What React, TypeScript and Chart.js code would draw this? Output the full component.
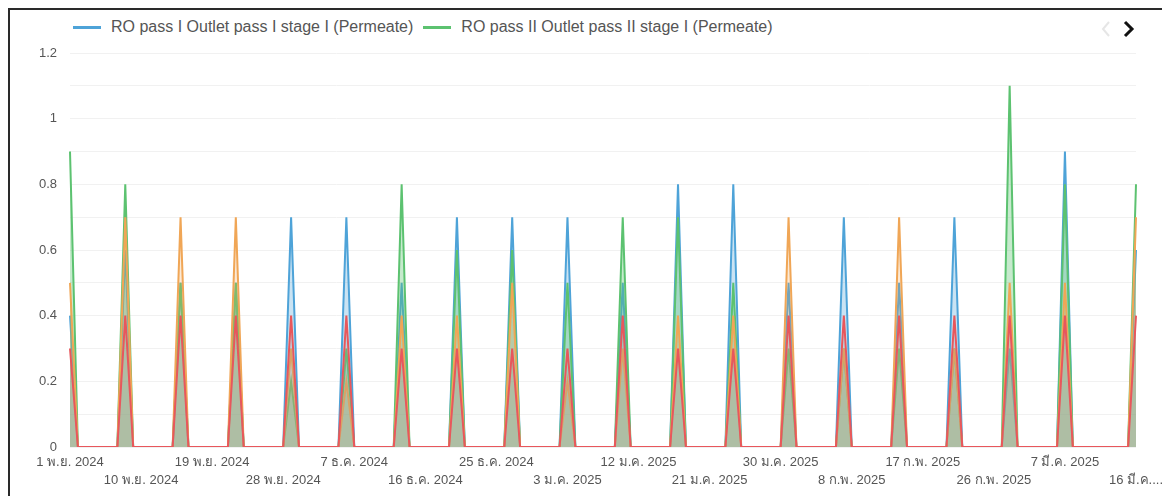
import React, { useEffect, useRef } from 'react';
import { Chart, registerables } from 'chart.js';

Chart.register(...registerables);

// Category axis: one label per day, 1 Nov 2024 .. 16 Mar 2025
const START_YEAR = 2024;
const START_MONTH = 10; // November (0-based)
const START_DAY = 1;
const DAY_COUNT = 136;
const THAI_MONTHS = ['ม.ค.', 'ก.พ.', 'มี.ค.', 'เม.ย.', 'พ.ค.', 'มิ.ย.', 'ก.ค.', 'ส.ค.', 'ก.ย.', 'ต.ค.', 'พ.ย.', 'ธ.ค.'];

const dayLabels: string[] = [];
for (let i = 0; i < DAY_COUNT; i++) {
  const d = new Date(START_YEAR, START_MONTH, START_DAY + i);
  dayLabels.push(`${d.getDate()} ${THAI_MONTHS[d.getMonth()]} ${d.getFullYear()}`);
}

// Days that carry measurements (all other days are 0)
const sampleDates = [
  '1 พ.ย. 2024', '8 พ.ย. 2024', '15 พ.ย. 2024', '22 พ.ย. 2024', '29 พ.ย. 2024',
  '6 ธ.ค. 2024', '13 ธ.ค. 2024', '20 ธ.ค. 2024', '27 ธ.ค. 2024', '3 ม.ค. 2025',
  '10 ม.ค. 2025', '17 ม.ค. 2025', '24 ม.ค. 2025', '31 ม.ค. 2025', '7 ก.พ. 2025',
  '14 ก.พ. 2025', '21 ก.พ. 2025', '28 ก.พ. 2025', '7 มี.ค. 2025', '16 มี.ค. 2025',
];

const roPass1 = [0.4, 0.6, 0.5, 0.5, 0.7, 0.7, 0.5, 0.7, 0.7, 0.7, 0.5, 0.8, 0.8, 0.5, 0.7, 0.5, 0.7, 0.3, 0.9, 0.6];
const roPass2 = [0.9, 0.8, 0.5, 0.5, 0.2, 0.3, 0.8, 0.6, 0.6, 0.5, 0.7, 0.7, 0.5, 0.3, 0.3, 0.3, 0.3, 1.1, 0.8, 0.8];
const series3 = [0.5, 0.7, 0.7, 0.7, 0.3, 0.2, 0.4, 0.4, 0.5, 0.2, 0.3, 0.4, 0.4, 0.7, 0.3, 0.7, 0.3, 0.5, 0.5, 0.7];
const series4 = [0.3, 0.4, 0.4, 0.4, 0.4, 0.4, 0.3, 0.3, 0.3, 0.3, 0.4, 0.3, 0.3, 0.4, 0.4, 0.4, 0.4, 0.4, 0.4, 0.4];

const seriesNames = [
  'RO pass I Outlet pass I stage I (Permeate)',
  'RO pass II Outlet pass II stage I (Permeate)',
  'Series 3',
  'Series 4',
];
const seriesColors = ['#4ea3d8', '#5cc270', '#f0a656', '#e8575c'];
const seriesFills = ['rgba(78,163,216,0.30)', 'rgba(92,194,112,0.35)', 'rgba(240,166,86,0.25)', 'rgba(150,150,150,0.25)'];

const yTickValues = [0, 0.2, 0.4, 0.6, 0.8, 1, 1.2];

function expand(values: number[]): number[] {
  return dayLabels.map((lab) => {
    const k = sampleDates.indexOf(lab);
    return k >= 0 ? values[k] : 0;
  });
}

export default function App() {
  const canvasRef = useRef<HTMLCanvasElement | null>(null);

  useEffect(() => {
    if (!canvasRef.current) return;
    const all = [roPass1, roPass2, series3, series4];
    const orders = [3, 2, 1, 0];
    const chart = new Chart(canvasRef.current, {
      type: 'line',
      data: {
        labels: dayLabels,
        datasets: all.map((vals, i) => ({
          label: seriesNames[i],
          data: expand(vals),
          borderColor: seriesColors[i],
          backgroundColor: seriesFills[i],
          borderWidth: 2,
          pointRadius: 0,
          tension: 0,
          fill: 'origin',
          order: orders[i],
        })),
      },
      options: {
        animation: false,
        responsive: true,
        maintainAspectRatio: false,
        layout: { padding: { top: 13, right: 29, bottom: 0, left: 0 } },
        plugins: {
          legend: { display: false },
          tooltip: { enabled: false },
        },
        scales: {
          x: {
            grid: { display: false, drawTicks: false },
            border: { display: false },
            afterFit: (scale: any) => {
              scale.height = 43;
              scale.paddingLeft = 0;
              scale.paddingRight = 0;
            },
            ticks: {
              autoSkip: false,
              maxRotation: 0,
              minRotation: 0,
              padding: 6,
              color: '#555',
              font: { family: 'Liberation Sans, Arial, sans-serif', size: 13, lineHeight: 1.4 },
              callback: (_v: any, idx: number) => {
                if (idx % 9 !== 0) return '';
                let lab = dayLabels[idx];
                if (idx === DAY_COUNT - 1) lab = lab.replace('. 2025', '....');
                return (idx / 9) % 2 === 1 ? ['', lab] : lab;
              },
            },
          },
          y: {
            min: 0,
            max: 1.2,
            afterFit: (scale: any) => {
              scale.width = 60;
              scale.paddingTop = 0;
              scale.paddingBottom = 0;
            },
            grid: { color: '#f1f1f1', drawTicks: false, lineWidth: 1 },
            border: { display: false },
            ticks: {
              stepSize: 0.1,
              padding: 13,
              color: '#555',
              font: { family: 'Liberation Sans, Arial, sans-serif', size: 13 },
              callback: (v: any) => {
                const n = Number(v);
                const hit = yTickValues.find((t) => Math.abs(t - n) < 1e-6);
                return hit === undefined ? '' : String(hit);
              },
            },
          },
        },
      },
    });
    return () => chart.destroy();
  }, []);

  return (
    <div
      style={{
        position: 'relative',
        width: 1160,
        height: 500,
        border: '2px solid #2a2a2a',
        boxSizing: 'border-box',
        background: '#fff',
        fontFamily: 'Liberation Sans, Arial, sans-serif',
      }}
    >
      <div style={{ position: 'absolute', left: 63, top: 8, display: 'flex', alignItems: 'center', fontSize: 16, color: '#555', whiteSpace: 'nowrap' }}>
        {seriesNames.slice(0, 2).map((name, i) => (
          <div key={name} style={{ display: 'flex', alignItems: 'center', marginRight: 10 }}>
            <span style={{ display: 'inline-block', width: 28, height: 3, background: seriesColors[i], marginRight: 10 }} />
            <span>{name}</span>
          </div>
        ))}
      </div>
      <svg style={{ position: 'absolute', left: 1088, top: 9 }} width={40} height={20}>
        <polyline points="11,3 5,10 11,17" fill="none" stroke="#e6e6e6" strokeWidth={2} />
        <polyline points="27,3 34,10 27,17" fill="none" stroke="#111" strokeWidth={3} />
      </svg>
      <div style={{ position: 'absolute', left: 0, top: 30, width: 1155, height: 450 }}>
        <canvas ref={canvasRef} />
      </div>
    </div>
  );
}
